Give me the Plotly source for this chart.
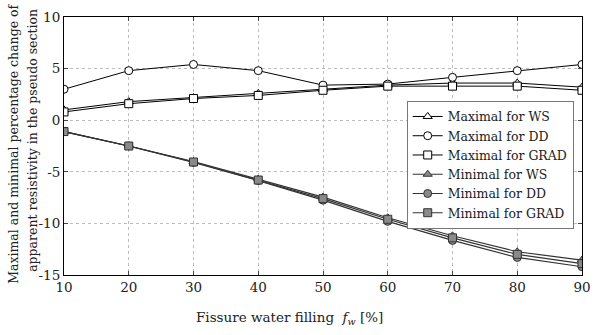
import plotly.graph_objects as go

x = [10, 20, 30, 40, 50, 60, 70, 80, 90]
max_ws = [1.0, 1.8, 2.2, 2.6, 3.0, 3.4, 3.6, 3.6, 3.2]
max_dd = [3.0, 4.8, 5.4, 4.8, 3.4, 3.5, 4.15, 4.8, 5.4]
max_grad = [0.8, 1.6, 2.1, 2.4, 2.9, 3.3, 3.3, 3.3, 2.9]
min_ws = [-1.1, -2.5, -4.0, -5.7, -7.45, -9.45, -11.2, -12.75, -13.55]
min_dd = [-1.1, -2.5, -4.1, -5.85, -7.75, -9.8, -11.65, -13.3, -14.2]
min_grad = [-1.1, -2.5, -4.05, -5.8, -7.6, -9.6, -11.4, -13.0, -13.9]
y_ticks = [-15, -10, -5, 0, 5, 10]

FONT = "DejaVu Serif"
TXT = "#222222"
fig = go.Figure()

series = [
    ("Maximal for WS", max_ws, "triangle-up", "white", "black", "black", 1),
    ("Maximal for DD", max_dd, "circle", "white", "black", "black", 1),
    ("Maximal for GRAD", max_grad, "square", "white", "black", "black", 1),
    ("Minimal for WS", min_ws, "triangle-up", "#8a8a8a", "#333333", "#333333", 1.2),
    ("Minimal for DD", min_dd, "circle", "#8a8a8a", "#333333", "#333333", 1.2),
    ("Minimal for GRAD", min_grad, "square", "#8a8a8a", "#333333", "#333333", 1.2),
]
for name, y, sym, fill, edge, lc, lw in series:
    fig.add_trace(go.Scatter(
        x=x, y=y, name=name, mode="lines+markers",
        line=dict(color=lc, width=lw),
        marker=dict(symbol=sym, size=8, color=fill, line=dict(color=edge, width=1)),
    ))

fig.update_layout(
    width=600, height=335,
    margin=dict(l=64, r=9, t=13, b=60),
    paper_bgcolor="white", plot_bgcolor="white",
    font=dict(family=FONT, size=13, color=TXT),
    showlegend=True,
    legend=dict(
        x=0.984, y=0.675, xanchor="right", yanchor="top",
        bordercolor="#777777", borderwidth=1, bgcolor="white",
        font=dict(family=FONT, size=12.5, color=TXT), itemwidth=30,
        tracegroupgap=0,
    ),
    annotations=[
        dict(text="Maximal and minimal percentage change of",
             xref="paper", yref="paper", x=-0.0977, y=0.51,
             xanchor="center", yanchor="middle", textangle=-90, showarrow=False,
             font=dict(family=FONT, size=12.5, color=TXT)),
        dict(text="apparent resistivity in the pseudo section",
             xref="paper", yref="paper", x=-0.0598, y=0.52,
             xanchor="center", yanchor="middle", textangle=-90, showarrow=False,
             font=dict(family=FONT, size=12.5, color=TXT)),
        dict(text="Fissure water filling  <i>f<sub>w</sub></i> [%]",
             xref="paper", yref="paper", x=0.436, y=-0.168,
             xanchor="center", yanchor="middle", showarrow=False,
             font=dict(family=FONT, size=13.5, color=TXT)),
    ],
)
fig.update_xaxes(
    range=[10, 90], tickvals=x, ticks="inside", ticklen=4,
    showline=True, linecolor="black", linewidth=1, mirror="ticks",
    showgrid=True, gridcolor="#bdbdbd", griddash="dot", gridwidth=1,
    zeroline=False,
    tickfont=dict(family=FONT, size=13.5, color=TXT),
)
fig.update_yaxes(
    range=[-15, 10], tickvals=y_ticks,
    ticktext=[str(v) for v in y_ticks],
    ticks="inside", ticklen=4,
    showline=True, linecolor="black", linewidth=1, mirror="ticks",
    showgrid=True, gridcolor="#bdbdbd", griddash="dot", gridwidth=1,
    zeroline=False,
    tickfont=dict(family=FONT, size=13.5, color=TXT),
)

fig.write_html("out.html")
